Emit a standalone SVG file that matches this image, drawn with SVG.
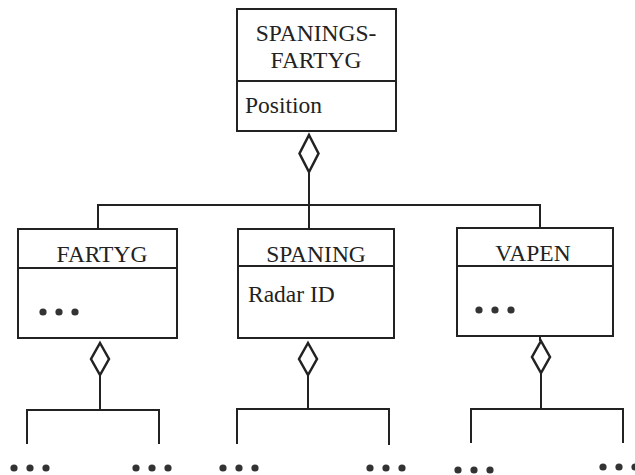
<svg xmlns="http://www.w3.org/2000/svg" width="635" height="475" viewBox="0 0 635 475">
  <style>
    .box { fill: #fff; stroke: #222; stroke-width: 2; }
    .line { fill: none; stroke: #222; stroke-width: 2; }
    .dia { fill: #fff; stroke: #222; stroke-width: 2.5; }
    .t { font-family: "Liberation Serif", "Times New Roman", serif; font-size: 23.5px; fill: #222; }
    .c { text-anchor: middle; }
    .dot { fill: #333; }
  </style>
  <defs>
    <g id="dots">
      <circle cx="0" cy="0" r="3.6" class="dot"/>
      <circle cx="16" cy="0" r="3.6" class="dot"/>
      <circle cx="32" cy="0" r="3.6" class="dot"/>
    </g>
  </defs>
  <rect width="635" height="475" fill="#fff"/>

  <!-- connectors -->
  <g id="connectors">
    <!-- top aggregation -->
    <path class="line" d="M309 172 V205 M98 229 V205 H540 V228 M309 205 V229"/>
    <path class="dia" d="M309 135 L318.5 153.5 L309 172 L299.5 153.5 Z"/>
    <!-- FARTYG aggregation -->
    <path class="line" d="M100 375 V410 M27 444 V410 H159 V444"/>
    <path class="dia" d="M100 343 L109 359 L100 375 L91 359 Z"/>
    <!-- SPANING aggregation -->
    <path class="line" d="M308 375 V409 M237 444 V409 H389 V445"/>
    <path class="dia" d="M308 343 L317 359 L308 375 L299 359 Z"/>
    <!-- VAPEN aggregation -->
    <path class="line" d="M540 336 V341 M541 373 V409 M471 443 V409 H623 V443"/>
    <path class="dia" d="M541 341 L550 357 L541 373 L532 357 Z"/>
  </g>

  <g id="spaningsfartyg">
    <rect class="box" x="237" y="9" width="159" height="122"/>
    <line class="line" x1="237" y1="81" x2="396" y2="81"/>
    <text class="t c" x="316" y="41">SPANINGS-</text>
    <text class="t c" x="316" y="68">FARTYG</text>
    <text class="t" x="245" y="113">Position</text>
  </g>

  <g id="fartyg">
    <rect class="box" x="18" y="229" width="159" height="109"/>
    <line class="line" x1="18" y1="268" x2="177" y2="268"/>
    <text class="t c" x="102" y="262">FARTYG</text>
    <use href="#dots" x="43" y="312"/>
  </g>

  <g id="spaning">
    <rect class="box" x="238" y="229" width="156" height="109"/>
    <line class="line" x1="238" y1="266" x2="394" y2="266"/>
    <text class="t c" x="316" y="262">SPANING</text>
    <text class="t" x="248" y="302">Radar ID</text>
  </g>

  <g id="vapen">
    <rect class="box" x="457" y="228" width="156" height="108"/>
    <line class="line" x1="457" y1="266" x2="613" y2="266"/>
    <text class="t c" x="533" y="261">VAPEN</text>
    <use href="#dots" x="479" y="310"/>
  </g>

  <!-- continuation marks -->
  <g id="more">
    <use href="#dots" x="14" y="468"/>
    <use href="#dots" x="136" y="468"/>
    <use href="#dots" x="223" y="468"/>
    <use href="#dots" x="370" y="468"/>
    <use href="#dots" x="458" y="470"/>
    <use href="#dots" x="603" y="467"/>
  </g>
</svg>
